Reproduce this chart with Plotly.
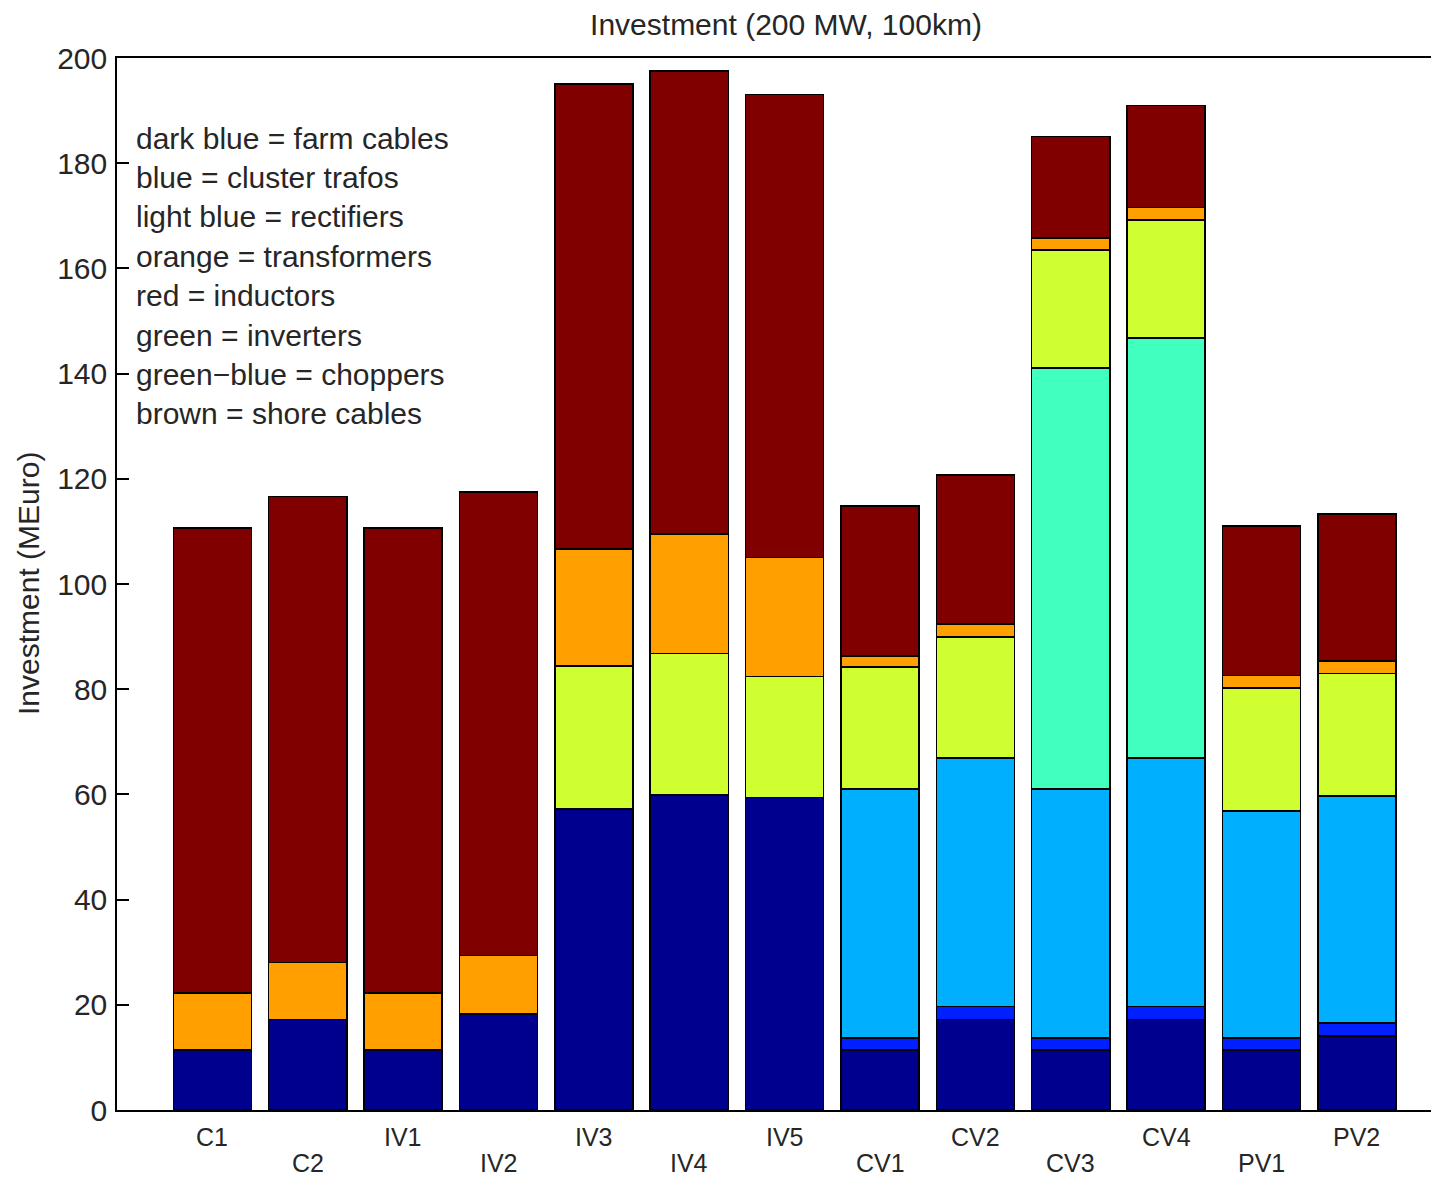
import plotly.graph_objects as go

categories = ["C1", "C2", "IV1", "IV2", "IV3", "IV4", "IV5",
              "CV1", "CV2", "CV3", "CV4", "PV1", "PV2"]

farm_cables    = [11.4, 17.2, 11.4, 18.25, 57.2, 59.9, 59.4, 11.4, 17.2, 11.4, 17.2, 11.4, 14.1]
cluster_trafos = [0, 0, 0, 0, 0, 0, 0, 2.3, 2.5, 2.3, 2.5, 2.3, 2.4]
rectifiers     = [0, 0, 0, 0, 0, 0, 0, 47.3, 47.2, 47.3, 47.2, 43.1, 43.2]
choppers       = [0, 0, 0, 0, 0, 0, 0, 0, 0, 80.1, 79.9, 0, 0]
inverters      = [0, 0, 0, 0, 27.2, 26.9, 23.0, 23.2, 23.0, 22.4, 22.4, 23.4, 23.3]
transformers   = [10.8, 10.8, 10.8, 11.15, 22.3, 22.7, 22.6, 2.1, 2.5, 2.3, 2.4, 2.4, 2.4]
inductors      = [0, 0, 0, 0, 0, 0, 0, 0, 0, 0, 0, 0, 0]
shore_cables   = [88.4, 88.6, 88.4, 88.1, 88.4, 88.0, 88.1, 28.5, 28.3, 19.3, 19.4, 28.4, 27.9]

legend_lines = ["dark blue = farm cables", "blue = cluster trafos",
                "light blue = rectifiers", "orange = transformers",
                "red = inductors", "green = inverters",
                "green\u2212blue = choppers", "brown = shore cables"]

series = [
    ("farm cables", farm_cables, "#00008F"),
    ("cluster trafos", cluster_trafos, "#0020FF"),
    ("rectifiers", rectifiers, "#00B0FF"),
    ("choppers", choppers, "#40FFBF"),
    ("inverters", inverters, "#CFFF30"),
    ("transformers", transformers, "#FF9F00"),
    ("inductors", inductors, "#FF2000"),
    ("shore cables", shore_cables, "#800000"),
]

FONT = "Liberation Sans, Arial, Helvetica, sans-serif"
TXT = "#262626"
W, H = 1431, 1170   # page has an 8px body margin
xpos = list(range(1, len(categories) + 1))

fig = go.Figure()
for name, vals, col in series:
    fig.add_trace(go.Bar(
        x=xpos, y=[v if v else None for v in vals], name=name,
        marker=dict(color=col, line=dict(color="black", width=1.5)),
        showlegend=False, hoverinfo="name+y"))

for i, lab in enumerate(categories):
    fig.add_annotation(x=xpos[i], xref="x", y=0, yref="paper",
                       text=lab, showarrow=False, xanchor="center",
                       yanchor="middle", yshift=-27 if i % 2 == 0 else -53,
                       font=dict(family=FONT, size=25, color=TXT))

for j, line in enumerate(legend_lines):
    fig.add_annotation(x=0, xref="paper", xshift=17, xanchor="left",
                       y=1, yref="paper", yanchor="middle",
                       yshift=-(80 + 39.4 * j),
                       text=line, showarrow=False,
                       font=dict(family=FONT, size=30, color=TXT))

fig.add_annotation(x=0, xref="paper", xshift=-89, y=0.5, yref="paper",
                   text="Investment (MEuro)", textangle=-90, showarrow=False,
                   xanchor="center", yanchor="middle",
                   font=dict(family=FONT, size=30, color=TXT))

fig.update_layout(
    width=W, height=H,
    margin=dict(l=109, r=0, t=50, b=68),
    paper_bgcolor="white", plot_bgcolor="white",
    barmode="stack", bargap=0.18,
    font=dict(family=FONT, size=30, color=TXT),
    title=dict(text="Investment (200 MW, 100km)", x=778 / W, xref="container",
               xanchor="center", y=1 - 16 / H, yref="container", yanchor="middle",
               font=dict(family=FONT, size=30, color=TXT)),
    xaxis=dict(range=[0, 1322 / 95.375], showticklabels=False, ticks="",
               showgrid=False, zeroline=False, showline=True, linecolor="black",
               linewidth=1.5, mirror=True),
    yaxis=dict(range=[0, 200], tickvals=list(range(0, 201, 20)), ticks="inside",
               ticklen=12, tickcolor="black", tickwidth=1.5,
               showgrid=False, zeroline=False, showline=True, linecolor="black",
               linewidth=1.5, mirror=False, ticklabelstandoff=2,
               tickfont=dict(family=FONT, size=30, color=TXT)),
)

fig.write_html("out.html")
